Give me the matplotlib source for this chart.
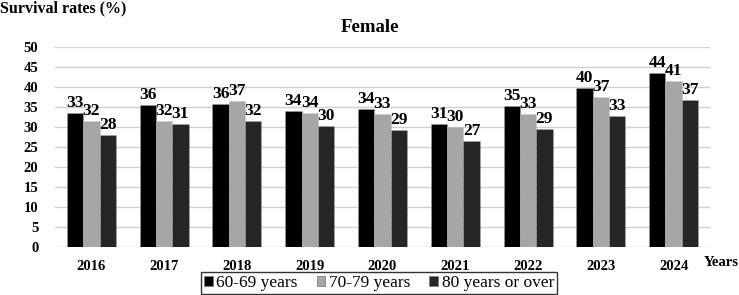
import matplotlib
matplotlib.use("Agg")
import matplotlib.pyplot as plt
import numpy as np

years = ["2016", "2017", "2018", "2019", "2020", "2021", "2022", "2023", "2024"]
s60 = [33.4, 35.5, 35.7, 33.9, 34.4, 30.7, 35.3, 39.8, 43.6]
s70 = [31.6, 31.6, 36.6, 33.5, 33.2, 30.1, 33.2, 37.4, 41.4]
s80 = [28.0, 30.8, 31.5, 30.3, 29.2, 26.6, 29.4, 32.8, 36.8]
series_names = ["60-69 years", "70-79 years", "80 years or over"]
colors = ["#000000", "#a6a6a6", "#262626"]

plt.rcParams['font.family'] = ['Liberation Serif', 'DejaVu Serif']

fig = plt.figure(figsize=(7.39, 2.95), dpi=100)
ax = fig.add_axes([55/739, 1-247/295, (710-55)/739, 200/295])

x = np.arange(len(years))
w = 0.224
for i, (vals, name, c) in enumerate(zip([s60, s70, s80], series_names, colors)):
    ax.bar(x + (i-1)*w, vals, width=w, color=c, label=name, zorder=3,
           edgecolor='#bfbfbf', linewidth=0.4, linestyle=(0, (2, 2)))
    for xi, v in zip(x + (i-1)*w, vals):
        ax.text(xi, v + 0.5, f"{round(v):d}", ha='center', va='bottom',
                fontsize=12.5, fontweight='bold', zorder=4)

ax.set_xlim(-0.5, len(years)-0.5)
ax.set_ylim(0, 50)
ax.set_yticks(range(0, 51, 5))
ax.set_xticks(x)
ax.set_xticklabels(years)
ax.yaxis.grid(True, color='#d0d0d0', linewidth=1.0, zorder=0)
for s in ax.spines.values():
    s.set_visible(False)
ax.tick_params(axis='both', length=0, labelsize=10.5)
ax.tick_params(axis='x', pad=9)
ax.tick_params(axis='y', pad=12)
for lab in ax.get_xticklabels() + ax.get_yticklabels():
    lab.set_fontweight('bold')

fig.text(0.0, 1-8/295, "Survival rates (%)", fontsize=11.5, fontweight='bold', ha='left', va='center')
fig.text(370/739, 1-28/295, "Female", fontsize=13.5, fontweight='bold', ha='center', va='center')
fig.text(739/739, 1-262/295, "Years", fontsize=10.5, fontweight='bold', ha='right', va='center')

leg = fig.legend(loc='center', bbox_to_anchor=(379/739, 1-283/295), ncol=3, fontsize=12.5,
                 frameon=True, fancybox=False, edgecolor='black', handlelength=0.5,
                 handleheight=0.5, handletextpad=0.2, columnspacing=1.1,
                 borderpad=0.2, borderaxespad=0)
leg.get_frame().set_linewidth(1.0)
for h in leg.legend_handles:
    h.set_edgecolor('#808080')
    h.set_linewidth(0.6)
    h.set_linestyle('-')

fig.savefig("out.png", dpi=100)
